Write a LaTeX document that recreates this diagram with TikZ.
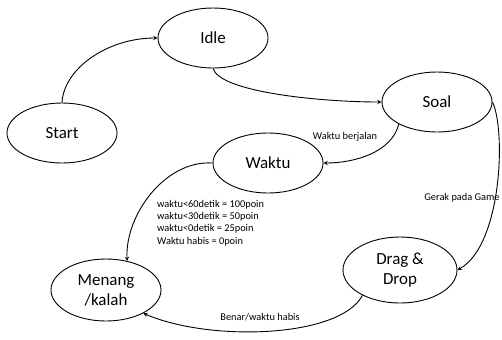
\documentclass[tikz,border=0pt]{standalone}
\usepackage{fontspec}
\setmainfont{Carlito}
\usetikzlibrary{shapes.geometric}

\tikzset{
  stav/.style={draw, line width=0.9bp, ellipse, minimum width=110bp, minimum height=60bp,
               inner sep=0pt, align=center, font=\fontsize{17}{20}\selectfont},
  popis/.style={inner sep=1pt, font=\fontsize{10.4}{12.3}\selectfont},
  prechod/.style={->, line width=0.9bp},
}

\begin{document}
\begin{tikzpicture}[x=1bp,y=-1bp,>=stealth]

  \useasboundingbox (0,0) rectangle (502,339);

  \begin{scope}   % stavy hry

    \node[stav] (start) at (62,133) {Start};
    \node[stav] (idle)  at (213,38) {Idle};
    \node[stav] (soal)  at (437,102) {Soal};
    \node[stav] (waktu) at (268,163) {Waktu};
    \node[stav, minimum height=62bp] (menang) at (106,290) {Menang\\/kalah};
    \node[stav, minimum width=114bp, minimum height=66bp] (drag) at (400,270)
         {Drag \&\\Drop};

  \end{scope}

  \begin{scope}   % prechody mezi stavy

    \draw[prechod] (start.north) .. controls (64,68) and (108,38) .. (idle.west);
    \draw[prechod] (idle.south) .. controls (220,92) and (320,102) .. (soal.west);
    \draw[prechod] (soal.210) .. controls (392,152) and (355,163) .. (waktu.east);
    \draw[prechod] (soal.east) .. controls (506,130) and (502,245) .. (drag.east);
    \draw[prechod] (waktu.west) .. controls (165,160) and (125,215) .. (menang.54);
    \draw[prechod] (drag.214) .. controls (340,338) and (210,342) .. (menang.-32);

    \node[popis] (berjalan) at (345,137) {Waktu berjalan};
    \node[popis] (gerak) at (462,198) {Gerak pada Game};
    \node[popis, align=left, anchor=west] (poin) at (156,223)
         {waktu<60detik = 100poin\\
          waktu<30detik = 50poin\\
          waktu<0detik = 25poin\\
          Waktu habis = 0poin};
    \node[popis] (benar) at (260,317) {Benar/waktu habis};

  \end{scope}

\end{tikzpicture}
\end{document}
